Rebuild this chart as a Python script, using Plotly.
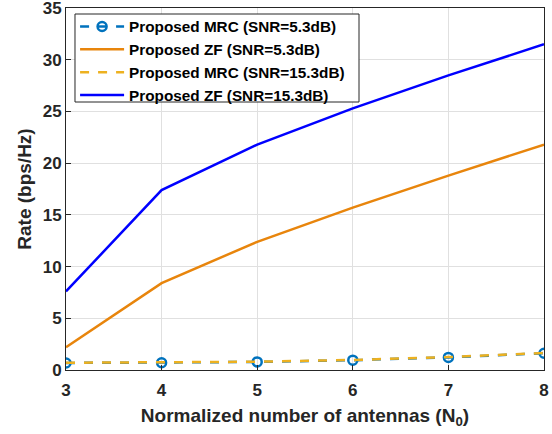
import plotly.graph_objects as go

N0 = [3, 4, 5, 6, 7, 8]
mrc_5 = [0.68, 0.70, 0.78, 0.95, 1.22, 1.62]
zf_5 = [2.2, 8.4, 12.4, 15.7, 18.8, 21.8]
mrc_15 = [0.70, 0.72, 0.80, 0.97, 1.25, 1.65]
zf_15 = [7.6, 17.4, 21.8, 25.3, 28.5, 31.5]

x_ticks = [3, 4, 5, 6, 7, 8]
y_ticks = [0, 5, 10, 15, 20, 25, 30, 35]

fig = go.Figure()
fig.add_trace(go.Scatter(x=N0, y=mrc_5, mode="lines+markers", name="Proposed MRC (SNR=5.3dB)",
                         line=dict(color="#0072BD", width=2.5, dash="dash"),
                         marker=dict(symbol="circle-open", size=9, color="#0072BD", line=dict(width=2.5))))
fig.add_trace(go.Scatter(x=N0, y=zf_5, mode="lines", name="Proposed ZF (SNR=5.3dB)",
                         line=dict(color="#E8850C", width=2.5)))
fig.add_trace(go.Scatter(x=N0, y=mrc_15, mode="lines", name="Proposed MRC (SNR=15.3dB)",
                         line=dict(color="#EDB120", width=2.5, dash="dash")))
fig.add_trace(go.Scatter(x=N0, y=zf_15, mode="lines", name="Proposed ZF (SNR=15.3dB)",
                         line=dict(color="#0000FF", width=2.5)))

font_family = "Liberation Sans, Arial, sans-serif"
top = 8
bottom = 64
plot_h = 434 - top - bottom
fig.update_layout(
    shapes=[dict(type="rect", xref="paper", yref="paper",
                 x0=0.0188, x1=0.613,
                 y0=(434 - bottom - 102) / plot_h, y1=(434 - bottom - 14) / plot_h,
                 fillcolor="white", line=dict(color="#262626", width=1), layer="above")],
    width=552, height=434,
    margin=dict(l=66, r=8, t=top, b=bottom, autoexpand=False),
    paper_bgcolor="white", plot_bgcolor="white",
    font=dict(family=font_family, size=16, color="#262626"),
    showlegend=True,
    legend=dict(x=0.019, y=(434 - bottom - 10) / plot_h, xanchor="left", yanchor="top",
                bgcolor="rgba(0,0,0,0)", borderwidth=0,
                font=dict(family=font_family, size=15.3, color="black", weight="bold"),
                tracegroupgap=0, itemwidth=44),
    xaxis=dict(range=[3, 8], tickvals=x_ticks, ticktext=[str(v) for v in x_ticks],
               showgrid=True, gridcolor="#E0E0E0", gridwidth=1, automargin=False,
               showline=True, linecolor="#262626", linewidth=1, mirror=True,
               ticks="inside", ticklen=5, tickcolor="#262626", ticklabelstandoff=5,
               tickfont=dict(size=17, weight="bold"), zeroline=False,
               title=dict(text="Normalized number of antennas (N<sub>0</sub>)",
                          font=dict(size=19, weight="bold"), standoff=9)),
    yaxis=dict(range=[0, 35.01], tickvals=y_ticks, ticktext=[str(v) for v in y_ticks],
               showgrid=True, gridcolor="#E0E0E0", gridwidth=1, automargin=False,
               showline=True, linecolor="#262626", linewidth=1, mirror=True,
               ticks="inside", ticklen=5, tickcolor="#262626", ticklabeloverflow="allow",
               tickfont=dict(size=17, weight="bold"), zeroline=False,
               title=dict(text="Rate (bps/Hz)", font=dict(size=19, weight="bold"), standoff=6)),
)
fig.write_html("out.html")
